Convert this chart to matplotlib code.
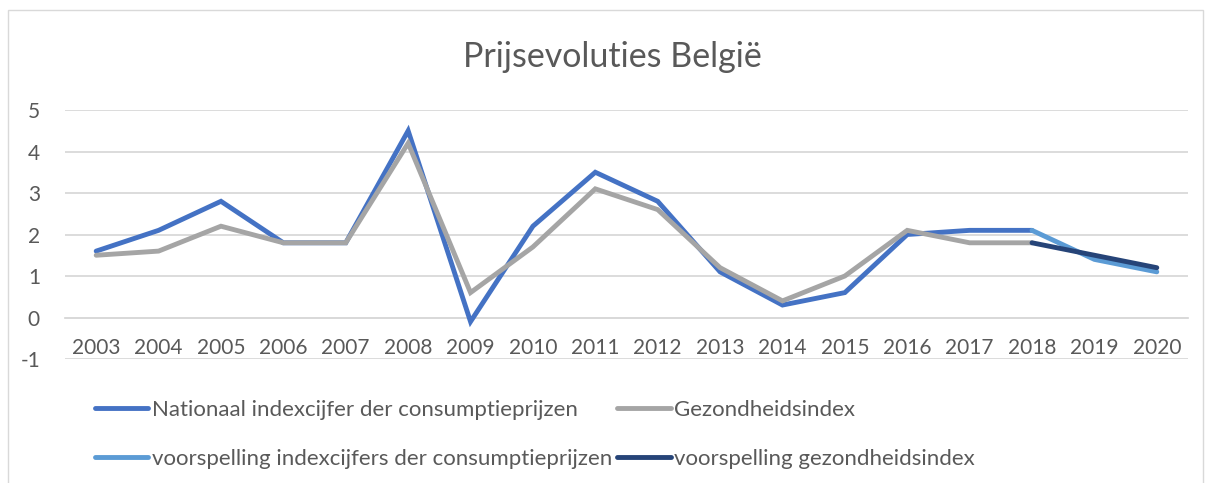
import matplotlib
matplotlib.use("Agg")
import matplotlib.pyplot as plt
from matplotlib.patches import Rectangle

plt.rcParams['font.family'] = ['Lato', 'DejaVu Sans']
plt.rcParams['axes.unicode_minus'] = False

years = ['2003', '2004', '2005', '2006', '2007', '2008', '2009', '2010', '2011',
         '2012', '2013', '2014', '2015', '2016', '2017', '2018', '2019', '2020']
cpi = [1.6, 2.1, 2.8, 1.8, 1.8, 4.5, -0.1, 2.2, 3.5, 2.8, 1.1, 0.3, 0.6, 2.0, 2.1, 2.1, None, None]
health = [1.5, 1.6, 2.2, 1.8, 1.8, 4.2, 0.6, 1.7, 3.1, 2.6, 1.2, 0.4, 1.0, 2.1, 1.8, 1.8, None, None]
cpi_forecast = [None] * 15 + [2.1, 1.4, 1.1]
health_forecast = [None] * 15 + [1.8, 1.5, 1.2]

labels = ['Nationaal indexcijfer der consumptieprijzen', 'Gezondheidsindex',
          'voorspelling indexcijfers der consumptieprijzen', 'voorspelling gezondheidsindex']
colors = ['#4472C4', '#A5A5A5', '#5B9BD5', '#264478']
title = 'Prijsevoluties België'

def xy(vals):
    xs = [i for i, v in enumerate(vals) if v is not None]
    ys = [v for v in vals if v is not None]
    return xs, ys

fig = plt.figure(figsize=(12.13, 4.83), dpi=100)
fig.patches.append(Rectangle((8 / 1213, -0.1), (1203 - 8) / 1213, 1.1 - 10 / 483,
                             transform=fig.transFigure, fill=False,
                             edgecolor='#D9D9D9', linewidth=1))
ax = fig.add_axes([65 / 1213, 1 - 359 / 483, (1188 - 65) / 1213, (359 - 110) / 483])

lw = 3.5
handles = []
for vals, c, lab in zip([cpi, health, cpi_forecast, health_forecast], colors, labels):
    xs, ys = xy(vals)
    h, = ax.plot(xs, ys, color=c, linewidth=lw, label=lab, solid_capstyle='round',
                 solid_joinstyle='miter', zorder=3)
    handles.append(h)

ax.set_xlim(-0.5, len(years) - 0.5)
ax.set_ylim(-1, 5)
ax.set_yticks(range(-1, 6))
ax.set_xticks(range(len(years)))
ax.set_xticklabels(years)
ax.grid(axis='y', color='#D9D9D9', linewidth=1.3, zorder=0)
for s in ['top', 'right', 'left']:
    ax.spines[s].set_visible(False)
ax.spines['bottom'].set_position(('data', 0))
ax.spines['bottom'].set_color('#D9D9D9')
ax.spines['bottom'].set_linewidth(1.3)
ax.tick_params(axis='both', length=0, labelsize=15, labelcolor='#595959')
ax.tick_params(axis='x', pad=15)
ax.tick_params(axis='y', pad=18)
ax.set_facecolor('none')

fig.text(612 / 1213, 1 - 57 / 483, title, ha='center', va='center',
         fontsize=24.5, color='#595959')

order = [0, 2, 1, 3]
fig.legend([handles[i] for i in order], [labels[i] for i in order],
           loc='upper left', bbox_to_anchor=(95 / 1213, 1 - 400 / 483),
           ncol=2, frameon=False, fontsize=16, labelcolor='#595959',
           handlelength=2.4, handletextpad=0.15, columnspacing=0.25,
           labelspacing=1.3, borderaxespad=0, borderpad=0)

fig.savefig('out.png', dpi=100)
